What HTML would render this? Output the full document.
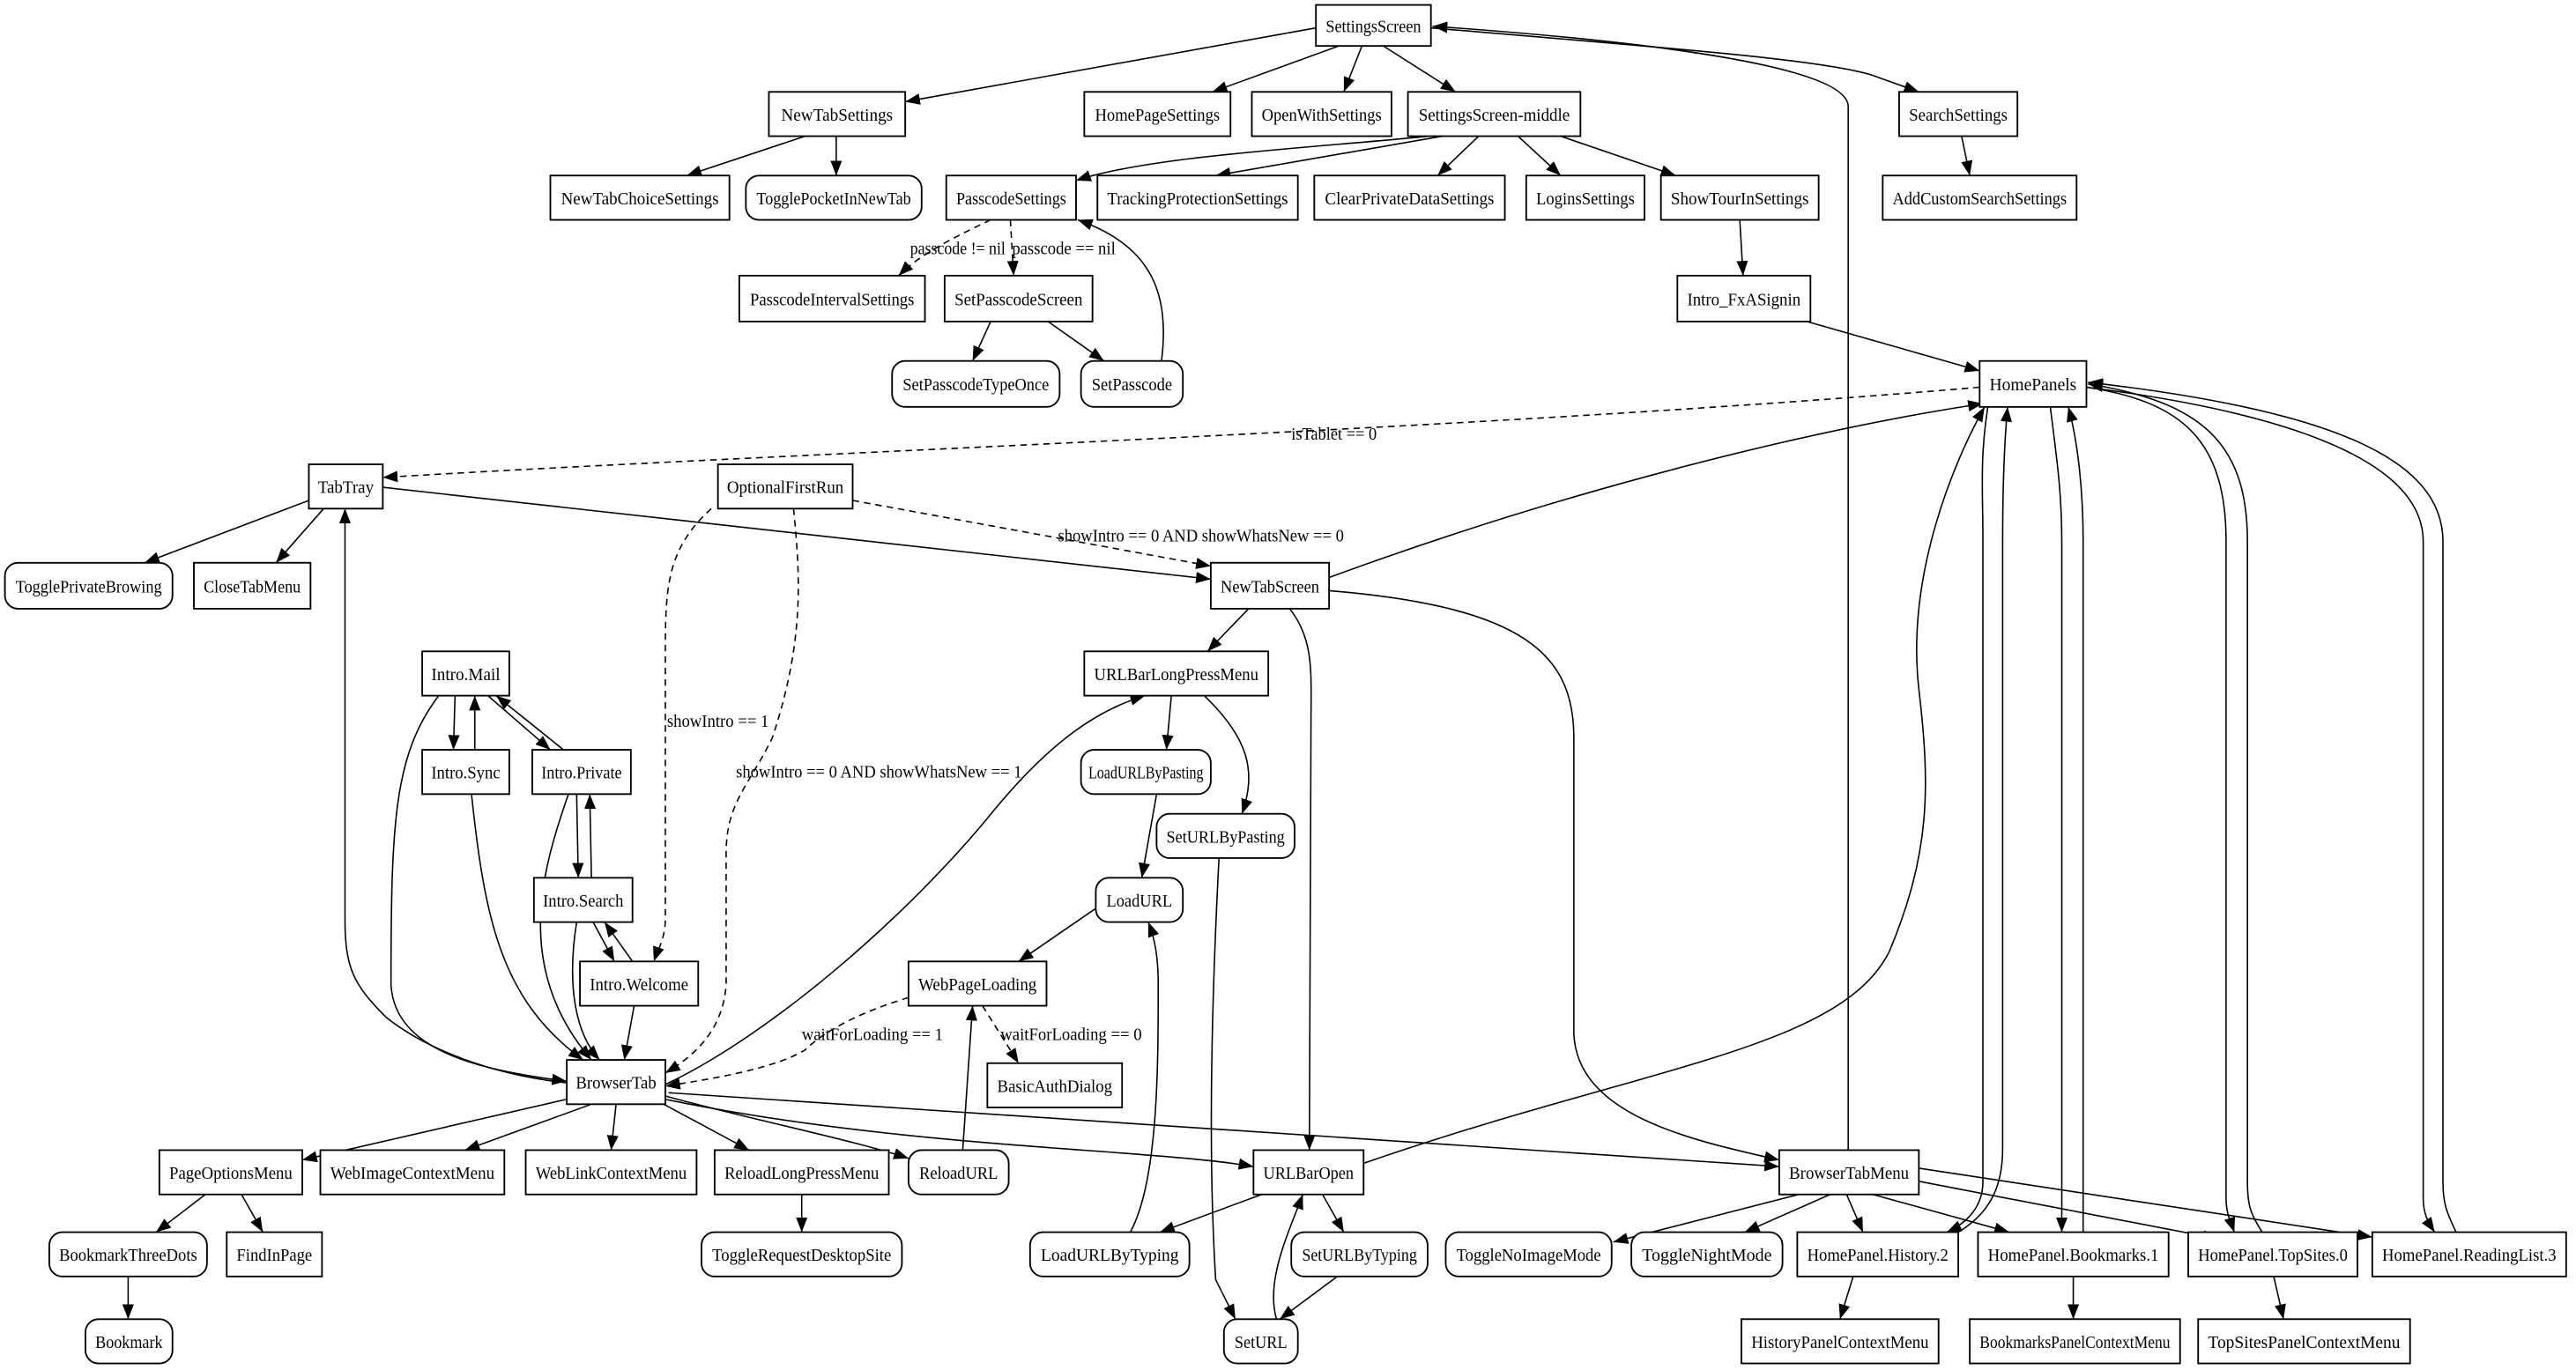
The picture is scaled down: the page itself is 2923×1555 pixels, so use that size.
<!DOCTYPE html>
<html><head><meta charset="utf-8"><style>
html,body{margin:0;padding:0;background:#fff;}
svg{display:block;}
text{font-family:"Liberation Serif",serif;font-size:11px;fill:#000;}
.n{fill:#fff;stroke:#000;stroke-width:1;}
.e{fill:none;stroke:#000;stroke-width:0.85;marker-end:url(#a);}
.d{stroke-dasharray:4,3;}
</style></head><body>
<svg width="2923" height="1555" viewBox="0 0 1568 835" preserveAspectRatio="none" xmlns="http://www.w3.org/2000/svg">
<defs><marker id="a" markerUnits="userSpaceOnUse" markerWidth="9" markerHeight="7" refX="9" refY="3.5" orient="auto"><path d="M0,0 L9,3.5 L0,7 z" fill="#000"/></marker></defs>
<rect width="1568" height="835" fill="#fff"/>
<g>
<path class="e" d="M801,17 L551,62"/>
<path class="e" d="M815,28 L738,56"/>
<path class="e" d="M829,28 L818,56"/>
<path class="e" d="M842,28 L886,56"/>
<path class="e" d="M871,17 C1000,28 1110,36 1140,46 L1168,56"/>
<path class="e" d="M1125,701 L1125,65 C1125,40 1000,25 872,16"/>
<path class="e" d="M490,83 L418,107"/>
<path class="e" d="M509,83 L509,107"/>
<path class="e" d="M870,83 C800,90 700,95 655,110"/>
<path class="e" d="M878,83 L740,107"/>
<path class="e" d="M900,83 L875,107"/>
<path class="e" d="M924,83 L950,107"/>
<path class="e" d="M950,83 L1020,107"/>
<path class="e" d="M1194,83 L1199,107"/>
<path class="e d" d="M603,134 C580,145 560,155 547,168"/>
<path class="e d" d="M615,134 L617,168"/>
<path class="e" d="M707,220 C712,180 702,150 656,134"/>
<path class="e" d="M603,196 L592,220"/>
<path class="e" d="M638,196 L672,220"/>
<path class="e" d="M1059,134 L1061,168"/>
<path class="e" d="M1100,196 L1205,226"/>
<path class="e d" d="M1205,236 C900,262 500,275 233,291"/>
<path class="e" d="M188,305 L88,343"/>
<path class="e" d="M197,310 L168,343"/>
<path class="e" d="M233,297 L737,353"/>
<path class="e d" d="M519,305 L737,345"/>
<path class="e d" d="M433,310 C405,335 405,360 405,400 L405,560 C405,572 400,580 398,586"/>
<path class="e d" d="M483,310 C487,350 490,390 470,450 C455,480 442,490 442,520 L442,600 C440,630 420,645 405,654"/>
<path class="e" d="M809,352 C950,300 1100,262 1207,246"/>
<path class="e" d="M760,371 L735,397"/>
<path class="e" d="M785,371 C800,390 798,410 798,440 L797,701"/>
<path class="e" d="M809,360 C930,370 958,400 958,450 L958,630 C960,680 1030,695 1083,707"/>
<path class="e" d="M277,424 L276,457"/>
<path class="e" d="M289,457 L289,424"/>
<path class="e" d="M297,424 L335,457"/>
<path class="e" d="M343,457 L302,424"/>
<path class="e" d="M267,424 C240,460 238,500 238,600 C240,640 290,652 345,659"/>
<path class="e" d="M345,660 C300,655 260,640 235,620 C215,600 210,590 210,560 L210,310"/>
<path class="e" d="M287,484 C295,560 305,610 355,646"/>
<path class="e" d="M346,484 C330,530 312,590 360,646"/>
<path class="e" d="M351,484 L352,535"/>
<path class="e" d="M360,535 L359,484"/>
<path class="e" d="M351,562 C345,600 350,630 365,646"/>
<path class="e" d="M361,562 L374,586"/>
<path class="e" d="M385,586 L368,562"/>
<path class="e" d="M386,613 L380,646"/>
<path class="e" d="M713,424 L710,457"/>
<path class="e" d="M733,424 C760,450 765,470 756,496"/>
<path class="e" d="M704,484 L695,535"/>
<path class="e" d="M742,523 C738,600 735,700 740,780 L752,804"/>
<path class="e" d="M668,553 L620,586"/>
<path class="e d" d="M553,608 C520,618 500,630 490,640 C470,652 430,658 405,662"/>
<path class="e d" d="M598,613 L620,648"/>
<path class="e" d="M405,661 C470,630 550,560 600,500 C640,450 670,432 697,424"/>
<path class="e" d="M345,670 L184,707"/>
<path class="e" d="M360,673 L283,701"/>
<path class="e" d="M375,673 L372,701"/>
<path class="e" d="M404,673 L456,701"/>
<path class="e" d="M405,668 C460,683 520,695 553,706"/>
<path class="e" d="M405,670 C550,700 700,700 763,711"/>
<path class="e" d="M407,666 L1083,711"/>
<path class="e" d="M586,701 L592,613"/>
<path class="e" d="M488,728 L488,751"/>
<path class="e" d="M125,728 L95,751"/>
<path class="e" d="M147,728 L160,751"/>
<path class="e" d="M78,778 L78,804"/>
<path class="e" d="M688,751 C705,720 705,650 705,600 C705,580 702,570 699,562"/>
<path class="e" d="M768,728 L706,751"/>
<path class="e" d="M805,728 L818,751"/>
<path class="e" d="M814,778 L779,804"/>
<path class="e" d="M777,804 C770,780 785,750 793,728"/>
<path class="e" d="M830,709 C1000,650 1120,640 1150,580 C1175,520 1175,480 1168,420 C1160,350 1190,280 1208,248"/>
<path class="e" d="M1210,248 C1205,280 1207,300 1207,330 L1207,720 C1207,735 1198,745 1185,751"/>
<path class="e" d="M1192,751 C1210,740 1219,725 1219,700 L1219,330 C1219,300 1220,270 1222,248"/>
<path class="e" d="M1248,248 C1252,280 1255,300 1255,330 L1255,751"/>
<path class="e" d="M1268,751 L1268,330 C1268,300 1265,270 1259,248"/>
<path class="e" d="M1270,236 C1330,245 1355,270 1355,330 L1355,730 C1355,740 1358,745 1360,751"/>
<path class="e" d="M1377,751 C1370,740 1368,735 1368,720 L1368,330 C1368,270 1340,245 1271,234"/>
<path class="e" d="M1270,236 C1420,255 1475,290 1475,330 L1475,730 C1475,740 1478,745 1482,751"/>
<path class="e" d="M1495,751 C1490,740 1487,735 1487,720 L1487,330 C1487,280 1420,250 1271,233"/>
<path class="e" d="M1095,728 L982,757"/>
<path class="e" d="M1114,728 L1062,751"/>
<path class="e" d="M1124,728 L1134,751"/>
<path class="e" d="M1140,728 L1223,751"/>
<path class="e" d="M1168,720 L1350,755"/>
<path class="e" d="M1168,712 L1444,754"/>
<path class="e" d="M1128,778 L1120,804"/>
<path class="e" d="M1262,778 L1262,804"/>
<path class="e" d="M1384,778 L1390,804"/>
</g>
<g>
<text x="554" y="155" textLength="58" lengthAdjust="spacingAndGlyphs">passcode != nil</text>
<text x="616" y="155" textLength="63" lengthAdjust="spacingAndGlyphs">passcode == nil</text>
<text x="786" y="268" textLength="52" lengthAdjust="spacingAndGlyphs">isTablet == 0</text>
<text x="644" y="330" textLength="174" lengthAdjust="spacingAndGlyphs">showIntro == 0 AND showWhatsNew == 0</text>
<text x="406" y="443" textLength="62" lengthAdjust="spacingAndGlyphs">showIntro == 1</text>
<text x="448" y="474" textLength="174" lengthAdjust="spacingAndGlyphs">showIntro == 0 AND showWhatsNew == 1</text>
<text x="488" y="634" textLength="86" lengthAdjust="spacingAndGlyphs">waitForLoading == 1</text>
<text x="609" y="634" textLength="86" lengthAdjust="spacingAndGlyphs">waitForLoading == 0</text>
</g>
<g text-anchor="middle">
<rect class="n" x="801" y="3" width="70" height="25"/><text x="836" y="19.5" textLength="58" lengthAdjust="spacingAndGlyphs">SettingsScreen</text>
<rect class="n" x="468" y="56" width="83" height="27"/><text x="509.5" y="73.5" textLength="68" lengthAdjust="spacingAndGlyphs">NewTabSettings</text>
<rect class="n" x="660" y="56" width="89" height="27"/><text x="704.5" y="73.5" textLength="76" lengthAdjust="spacingAndGlyphs">HomePageSettings</text>
<rect class="n" x="762" y="56" width="85" height="27"/><text x="804.5" y="73.5" textLength="73" lengthAdjust="spacingAndGlyphs">OpenWithSettings</text>
<rect class="n" x="857" y="56" width="105" height="27"/><text x="909.5" y="73.5" textLength="92" lengthAdjust="spacingAndGlyphs">SettingsScreen-middle</text>
<rect class="n" x="1156" y="56" width="72" height="27"/><text x="1192" y="73.5" textLength="60" lengthAdjust="spacingAndGlyphs">SearchSettings</text>
<rect class="n" x="335" y="107" width="109" height="27"/><text x="389.5" y="124.5" textLength="96" lengthAdjust="spacingAndGlyphs">NewTabChoiceSettings</text>
<rect class="n" x="454" y="107" width="107" height="27" rx="8"/><text x="507.5" y="124.5" textLength="94" lengthAdjust="spacingAndGlyphs">TogglePocketInNewTab</text>
<rect class="n" x="576" y="107" width="79" height="27"/><text x="615.5" y="124.5" textLength="67" lengthAdjust="spacingAndGlyphs">PasscodeSettings</text>
<rect class="n" x="668" y="107" width="122" height="27"/><text x="729" y="124.5" textLength="110" lengthAdjust="spacingAndGlyphs">TrackingProtectionSettings</text>
<rect class="n" x="800" y="107" width="116" height="27"/><text x="858" y="124.5" textLength="103" lengthAdjust="spacingAndGlyphs">ClearPrivateDataSettings</text>
<rect class="n" x="929" y="107" width="72" height="27"/><text x="965" y="124.5" textLength="60" lengthAdjust="spacingAndGlyphs">LoginsSettings</text>
<rect class="n" x="1011" y="107" width="96" height="27"/><text x="1059" y="124.5" textLength="84" lengthAdjust="spacingAndGlyphs">ShowTourInSettings</text>
<rect class="n" x="1146" y="107" width="118" height="27"/><text x="1205" y="124.5" textLength="106" lengthAdjust="spacingAndGlyphs">AddCustomSearchSettings</text>
<rect class="n" x="450" y="168" width="113" height="28"/><text x="506.5" y="186" textLength="100" lengthAdjust="spacingAndGlyphs">PasscodeIntervalSettings</text>
<rect class="n" x="575" y="168" width="90" height="28"/><text x="620" y="186" textLength="78" lengthAdjust="spacingAndGlyphs">SetPasscodeScreen</text>
<rect class="n" x="1021" y="168" width="81" height="28"/><text x="1061.5" y="186" textLength="69" lengthAdjust="spacingAndGlyphs">Intro_FxASignin</text>
<rect class="n" x="543" y="220" width="102" height="28" rx="8"/><text x="594" y="238" textLength="89" lengthAdjust="spacingAndGlyphs">SetPasscodeTypeOnce</text>
<rect class="n" x="658" y="220" width="62" height="28" rx="8"/><text x="689" y="238" textLength="49" lengthAdjust="spacingAndGlyphs">SetPasscode</text>
<rect class="n" x="1205" y="220" width="65" height="28"/><text x="1237.5" y="238" textLength="53" lengthAdjust="spacingAndGlyphs">HomePanels</text>
<rect class="n" x="188" y="283" width="45" height="27"/><text x="210.5" y="300.5" textLength="34" lengthAdjust="spacingAndGlyphs">TabTray</text>
<rect class="n" x="437" y="283" width="82" height="27"/><text x="478" y="300.5" textLength="71" lengthAdjust="spacingAndGlyphs">OptionalFirstRun</text>
<rect class="n" x="3" y="343" width="102" height="28" rx="8"/><text x="54" y="361" textLength="89" lengthAdjust="spacingAndGlyphs">TogglePrivateBrowing</text>
<rect class="n" x="118" y="343" width="71" height="28"/><text x="153.5" y="361" textLength="59" lengthAdjust="spacingAndGlyphs">CloseTabMenu</text>
<rect class="n" x="737" y="343" width="72" height="28"/><text x="773" y="361" textLength="60" lengthAdjust="spacingAndGlyphs">NewTabScreen</text>
<rect class="n" x="257" y="397" width="53" height="27"/><text x="283.5" y="414.5" textLength="42" lengthAdjust="spacingAndGlyphs">Intro.Mail</text>
<rect class="n" x="660" y="397" width="112" height="27"/><text x="716" y="414.5" textLength="100" lengthAdjust="spacingAndGlyphs">URLBarLongPressMenu</text>
<rect class="n" x="257" y="457" width="53" height="27"/><text x="283.5" y="474.5" textLength="42" lengthAdjust="spacingAndGlyphs">Intro.Sync</text>
<rect class="n" x="324" y="457" width="60" height="27"/><text x="354" y="474.5" textLength="49" lengthAdjust="spacingAndGlyphs">Intro.Private</text>
<rect class="n" x="658" y="457" width="79" height="27" rx="8"/><text x="697.5" y="474.5" textLength="70" lengthAdjust="spacingAndGlyphs">LoadURLByPasting</text>
<rect class="n" x="704" y="496" width="84" height="27" rx="8"/><text x="746" y="513.5" textLength="72" lengthAdjust="spacingAndGlyphs">SetURLByPasting</text>
<rect class="n" x="325" y="535" width="60" height="27"/><text x="355" y="552.5" textLength="49" lengthAdjust="spacingAndGlyphs">Intro.Search</text>
<rect class="n" x="667" y="535" width="53" height="27" rx="8"/><text x="693.5" y="552.5" textLength="40" lengthAdjust="spacingAndGlyphs">LoadURL</text>
<rect class="n" x="353" y="586" width="72" height="27"/><text x="389" y="603.5" textLength="60" lengthAdjust="spacingAndGlyphs">Intro.Welcome</text>
<rect class="n" x="553" y="586" width="84" height="27"/><text x="595" y="603.5" textLength="72" lengthAdjust="spacingAndGlyphs">WebPageLoading</text>
<rect class="n" x="345" y="646" width="60" height="27"/><text x="375" y="663.5" textLength="49" lengthAdjust="spacingAndGlyphs">BrowserTab</text>
<rect class="n" x="601" y="648" width="82" height="27"/><text x="642" y="665.5" textLength="70" lengthAdjust="spacingAndGlyphs">BasicAuthDialog</text>
<rect class="n" x="97" y="701" width="87" height="27"/><text x="140.5" y="718.5" textLength="75" lengthAdjust="spacingAndGlyphs">PageOptionsMenu</text>
<rect class="n" x="195" y="701" width="112" height="27"/><text x="251" y="718.5" textLength="100" lengthAdjust="spacingAndGlyphs">WebImageContextMenu</text>
<rect class="n" x="320" y="701" width="104" height="27"/><text x="372" y="718.5" textLength="92" lengthAdjust="spacingAndGlyphs">WebLinkContextMenu</text>
<rect class="n" x="435" y="701" width="106" height="27"/><text x="488" y="718.5" textLength="94" lengthAdjust="spacingAndGlyphs">ReloadLongPressMenu</text>
<rect class="n" x="553" y="701" width="61" height="27" rx="8"/><text x="583.5" y="718.5" textLength="48" lengthAdjust="spacingAndGlyphs">ReloadURL</text>
<rect class="n" x="763" y="701" width="67" height="27"/><text x="796.5" y="718.5" textLength="55" lengthAdjust="spacingAndGlyphs">URLBarOpen</text>
<rect class="n" x="1083" y="701" width="85" height="27"/><text x="1125.5" y="718.5" textLength="73" lengthAdjust="spacingAndGlyphs">BrowserTabMenu</text>
<rect class="n" x="30" y="751" width="96" height="27" rx="8"/><text x="78" y="768.5" textLength="84" lengthAdjust="spacingAndGlyphs">BookmarkThreeDots</text>
<rect class="n" x="138" y="751" width="58" height="27"/><text x="167" y="768.5" textLength="46" lengthAdjust="spacingAndGlyphs">FindInPage</text>
<rect class="n" x="427" y="751" width="122" height="27" rx="8"/><text x="488" y="768.5" textLength="109" lengthAdjust="spacingAndGlyphs">ToggleRequestDesktopSite</text>
<rect class="n" x="627" y="751" width="97" height="27" rx="8"/><text x="675.5" y="768.5" textLength="84" lengthAdjust="spacingAndGlyphs">LoadURLByTyping</text>
<rect class="n" x="786" y="751" width="83" height="27" rx="8"/><text x="827.5" y="768.5" textLength="70" lengthAdjust="spacingAndGlyphs">SetURLByTyping</text>
<rect class="n" x="880" y="751" width="101" height="27" rx="8"/><text x="930.5" y="768.5" textLength="88" lengthAdjust="spacingAndGlyphs">ToggleNoImageMode</text>
<rect class="n" x="993" y="751" width="92" height="27" rx="8"/><text x="1039" y="768.5" textLength="79" lengthAdjust="spacingAndGlyphs">ToggleNightMode</text>
<rect class="n" x="1094" y="751" width="98" height="27"/><text x="1143" y="768.5" textLength="86" lengthAdjust="spacingAndGlyphs">HomePanel.History.2</text>
<rect class="n" x="1204" y="751" width="116" height="27"/><text x="1262" y="768.5" textLength="104" lengthAdjust="spacingAndGlyphs">HomePanel.Bookmarks.1</text>
<rect class="n" x="1332" y="751" width="103" height="27"/><text x="1383.5" y="768.5" textLength="91" lengthAdjust="spacingAndGlyphs">HomePanel.TopSites.0</text>
<rect class="n" x="1444" y="751" width="118" height="27"/><text x="1503" y="768.5" textLength="106" lengthAdjust="spacingAndGlyphs">HomePanel.ReadingList.3</text>
<rect class="n" x="52" y="804" width="53" height="27" rx="8"/><text x="78.5" y="821.5" textLength="41" lengthAdjust="spacingAndGlyphs">Bookmark</text>
<rect class="n" x="745" y="804" width="45" height="27" rx="8"/><text x="767.5" y="821.5" textLength="32" lengthAdjust="spacingAndGlyphs">SetURL</text>
<rect class="n" x="1060" y="804" width="120" height="27"/><text x="1120" y="821.5" textLength="108" lengthAdjust="spacingAndGlyphs">HistoryPanelContextMenu</text>
<rect class="n" x="1199" y="804" width="128" height="27"/><text x="1263" y="821.5" textLength="116" lengthAdjust="spacingAndGlyphs">BookmarksPanelContextMenu</text>
<rect class="n" x="1338" y="804" width="129" height="27"/><text x="1402.5" y="821.5" textLength="117" lengthAdjust="spacingAndGlyphs">TopSitesPanelContextMenu</text>
</g>
</svg>
</body></html>
